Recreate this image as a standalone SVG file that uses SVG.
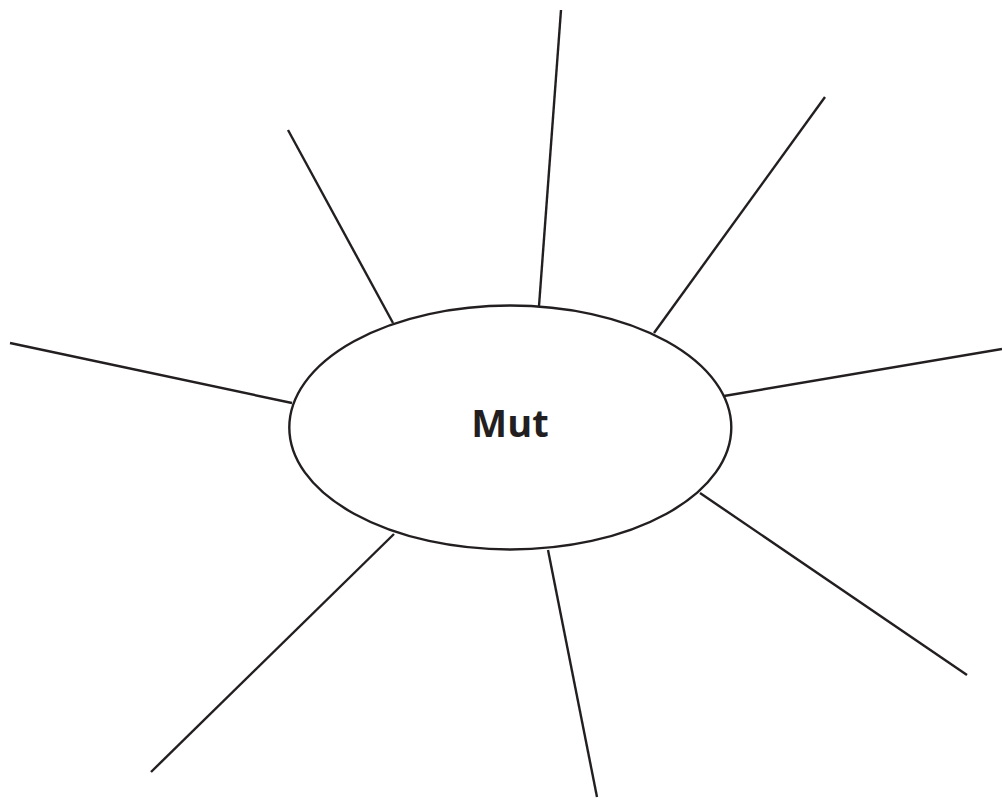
<svg xmlns="http://www.w3.org/2000/svg" width="1002" height="798" viewBox="0 0 1002 798">
<style>
.ln{stroke:#231f20;stroke-width:2.4;fill:none;stroke-linecap:butt}
.node{fill:#fff;stroke:#231f20;stroke-width:2.4}
.lbl{font-family:"Open Sans","Noto Sans",sans-serif;font-weight:bold;font-size:38px;fill:#231f20}
</style>
<rect width="1002" height="798" fill="#fff"/>
<g id="connectors">
<line class="ln" x1="561" y1="10" x2="539" y2="306"/>
<line class="ln" x1="825" y1="97" x2="654" y2="333"/>
<line class="ln" x1="1002" y1="349" x2="724" y2="396"/>
<line class="ln" x1="967" y1="675" x2="700" y2="493"/>
<line class="ln" x1="597" y1="797" x2="548" y2="550"/>
<line class="ln" x1="151" y1="772" x2="394" y2="534"/>
<line class="ln" x1="10" y1="343" x2="292" y2="403"/>
<line class="ln" x1="288" y1="130" x2="393" y2="323"/>
</g>
<g id="node-mut">
<ellipse class="node" cx="510.3" cy="427.5" rx="221" ry="122"/>
<text class="lbl" x="510" y="437" text-anchor="middle">Mut</text>
</g>
</svg>
